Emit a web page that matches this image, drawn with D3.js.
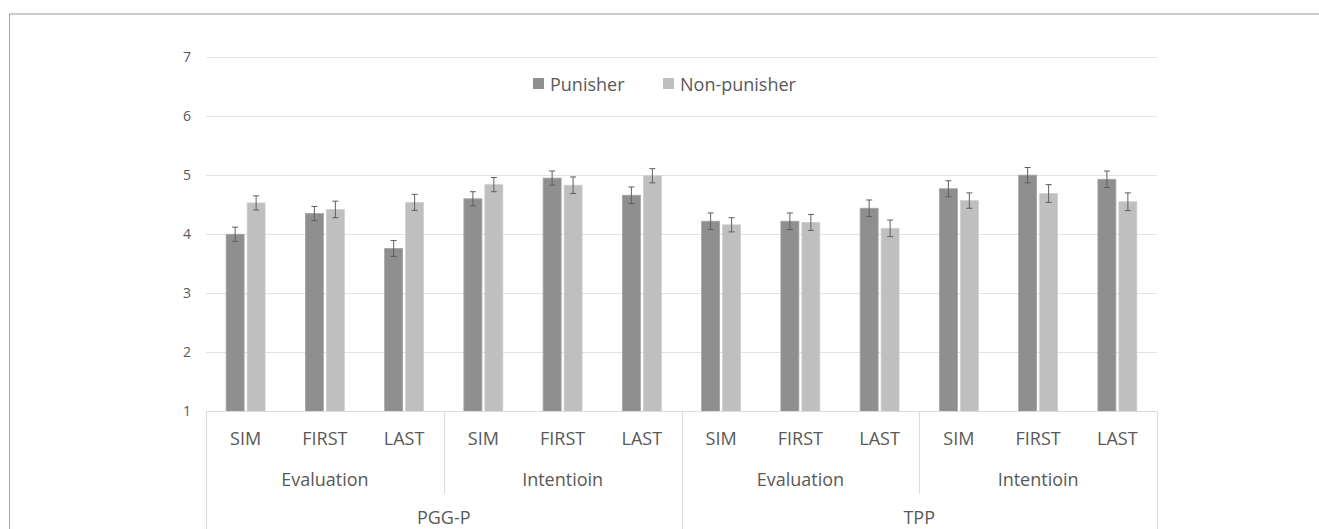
<!DOCTYPE html>
<html>
<head>
<meta charset="utf-8">
<script src="https://cdn.jsdelivr.net/npm/d3@7"></script>
<style>
  html, body { margin: 0; padding: 0; background: #fff; }
  svg { display: block; }
  text { font-family: "Open Sans", sans-serif; fill: #595959; }
</style>
</head>
<body>
<svg id="chart" width="1319" height="529"></svg>
<script>
// ---- data ----
const studies = ["PGG-P", "TPP"];
const measures = ["Evaluation", "Intentioin"];
const phases = ["SIM", "FIRST", "LAST"];
const seriesNames = ["Punisher", "Non-punisher"];
// order: PGG-P Eval (SIM, FIRST, LAST), PGG-P Int, TPP Eval, TPP Int
const punisherMeans    = [4.00, 4.35, 3.76, 4.60, 4.95, 4.66, 4.22, 4.22, 4.44, 4.77, 5.00, 4.93];
const nonPunisherMeans = [4.53, 4.42, 4.54, 4.84, 4.83, 4.99, 4.16, 4.20, 4.10, 4.57, 4.69, 4.55];
const punisherErrors    = [0.12, 0.12, 0.135, 0.12, 0.12, 0.14, 0.14, 0.14, 0.14, 0.135, 0.13, 0.14];
const nonPunisherErrors = [0.12, 0.14, 0.135, 0.12, 0.14, 0.12, 0.12, 0.135, 0.14, 0.13, 0.15, 0.15];
const yTicks = [1, 2, 3, 4, 5, 6, 7];

// ---- build categories ----
const cats = [];
studies.forEach(s => measures.forEach(m => phases.forEach(p => cats.push({study: s, measure: m, phase: p, key: s + "|" + m + "|" + p}))));
cats.forEach((c, i) => {
  c.values = [
    {series: seriesNames[0], v: punisherMeans[i], e: punisherErrors[i]},
    {series: seriesNames[1], v: nonPunisherMeans[i], e: nonPunisherErrors[i]}
  ];
});

const colors = {"Punisher": "#8f8f8f", "Non-punisher": "#bfbfbf"};

const svg = d3.select("#chart");
const pLeft = 206, pRight = 1157, pTop = 57, pBottom = 411.5;

// frame
svg.append("line").attr("x1", 9).attr("x2", 1319).attr("y1", 14).attr("y2", 14)
  .attr("stroke", "#bdbdbd").attr("stroke-width", 1.5);
svg.append("line").attr("x1", 9.5).attr("x2", 9.5).attr("y1", 14).attr("y2", 529)
  .attr("stroke", "#a6a6a6").attr("stroke-width", 1);

const y = d3.scaleLinear().domain([1, 7]).range([pBottom, pTop]);
const x0 = d3.scaleBand().domain(cats.map(c => c.key)).range([pLeft, pRight]).padding(0);
const x1 = d3.scaleBand().domain(seriesNames).range([0, x0.bandwidth()]).paddingInner(0.143).paddingOuter(0.96);

// gridlines
svg.append("g").selectAll("line").data(yTicks.filter(t => t > 1)).join("line")
  .attr("x1", pLeft).attr("x2", pRight)
  .attr("y1", d => Math.round(y(d)) + 0.5).attr("y2", d => Math.round(y(d)) + 0.5)
  .attr("stroke", "#e3e3e3").attr("stroke-width", 1.2);

// y axis labels
const yAxis = d3.axisLeft(y).tickValues(yTicks).tickSize(0).tickPadding(0).tickFormat(d3.format("d"));
const yg = svg.append("g").attr("transform", `translate(${pLeft - 15},0)`).call(yAxis);
yg.select(".domain").remove();
yg.selectAll("text").style("font-size", "14px").attr("fill", "#595959").style("font-family", "'Open Sans', sans-serif");

// bars
const groups = svg.append("g").selectAll("g").data(cats).join("g")
  .attr("transform", d => `translate(${x0(d.key)},0)`);
groups.selectAll("rect").data(d => d.values).join("rect")
  .attr("x", d => x1(d.series))
  .attr("width", x1.bandwidth())
  .attr("y", d => y(d.v))
  .attr("height", d => y(1) - y(d.v))
  .attr("fill", d => colors[d.series])
  .attr("stroke", d => d.series === "Punisher" ? "#a3a3a3" : "#cfcfcf")
  .attr("stroke-width", 0.8);

// error bars
const eb = groups.selectAll("g.err").data(d => d.values).join("g").attr("class", "err")
  .attr("stroke", "#5f5f5f").attr("stroke-width", 1);
eb.append("line")
  .attr("x1", d => x1(d.series) + x1.bandwidth() / 2).attr("x2", d => x1(d.series) + x1.bandwidth() / 2)
  .attr("y1", d => y(d.v + d.e)).attr("y2", d => y(d.v - d.e));
eb.append("line")
  .attr("x1", d => x1(d.series) + x1.bandwidth() / 2 - 3).attr("x2", d => x1(d.series) + x1.bandwidth() / 2 + 3)
  .attr("y1", d => y(d.v + d.e)).attr("y2", d => y(d.v + d.e));
eb.append("line")
  .attr("x1", d => x1(d.series) + x1.bandwidth() / 2 - 3).attr("x2", d => x1(d.series) + x1.bandwidth() / 2 + 3)
  .attr("y1", d => y(d.v - d.e)).attr("y2", d => y(d.v - d.e));

// category axis
const axisColor = "#dcdcdc";
svg.append("line").attr("x1", pLeft).attr("x2", pRight).attr("y1", pBottom).attr("y2", pBottom)
  .attr("stroke", axisColor).attr("stroke-width", 1);

// phase labels
const phaseAxis = d3.axisBottom(x0).tickSize(0).tickPadding(0).tickFormat(k => k.split("|")[2]);
const pg = svg.append("g").attr("transform", `translate(0,${pBottom})`).call(phaseAxis);
pg.select(".domain").remove();
pg.selectAll("text").attr("y", 0).attr("dy", null)
  .attr("transform", "translate(0,33)")
  .style("font-size", "18px").attr("fill", "#595959").style("font-family", "'Open Sans', sans-serif");

// measure labels + separators
const measureGroups = [];
studies.forEach(s => measures.forEach(m => {
  const ks = cats.filter(c => c.study === s && c.measure === m).map(c => c.key);
  measureGroups.push({study: s, measure: m, x0: x0(ks[0]), x1: x0(ks[ks.length - 1]) + x0.bandwidth()});
}));
svg.append("g").selectAll("text").data(measureGroups).join("text")
  .attr("x", d => (d.x0 + d.x1) / 2).attr("y", 486)
  .attr("text-anchor", "middle").style("font-size", "18px").text(d => d.measure);

const studyGroups = studies.map(s => {
  const ks = cats.filter(c => c.study === s).map(c => c.key);
  return {study: s, x0: x0(ks[0]), x1: x0(ks[ks.length - 1]) + x0.bandwidth()};
});
svg.append("g").selectAll("text").data(studyGroups).join("text")
  .attr("x", d => (d.x0 + d.x1) / 2).attr("y", 524)
  .attr("text-anchor", "middle").style("font-size", "18px").text(d => d.study);

// inner separators (between measures within a study)
const innerSeps = studyGroups.map(g => measureGroups.filter(m => m.study === g.study)[1].x0);
svg.append("g").selectAll("line").data(innerSeps).join("line")
  .attr("x1", d => Math.round(d) + 0.5).attr("x2", d => Math.round(d) + 0.5)
  .attr("y1", pBottom).attr("y2", 494)
  .attr("stroke", axisColor).attr("stroke-width", 1);
// outer separators
const outerSeps = [pLeft].concat(studyGroups.map(g => g.x1));
svg.append("g").selectAll("line").data(outerSeps).join("line")
  .attr("x1", d => Math.round(d) + 0.5).attr("x2", d => Math.round(d) + 0.5)
  .attr("y1", pBottom).attr("y2", 529)
  .attr("stroke", axisColor).attr("stroke-width", 1);

// legend
const legend = svg.append("g");
const legendItems = [{name: seriesNames[0], x: 533}, {name: seriesNames[1], x: 663}];
legendItems.forEach(it => {
  legend.append("rect").attr("x", it.x).attr("y", 78).attr("width", 11).attr("height", 11)
    .attr("fill", colors[it.name]);
  legend.append("text").attr("x", it.x + 17).attr("y", 90.5).style("font-size", "18px").text(it.name);
});
</script>
</body>
</html>
